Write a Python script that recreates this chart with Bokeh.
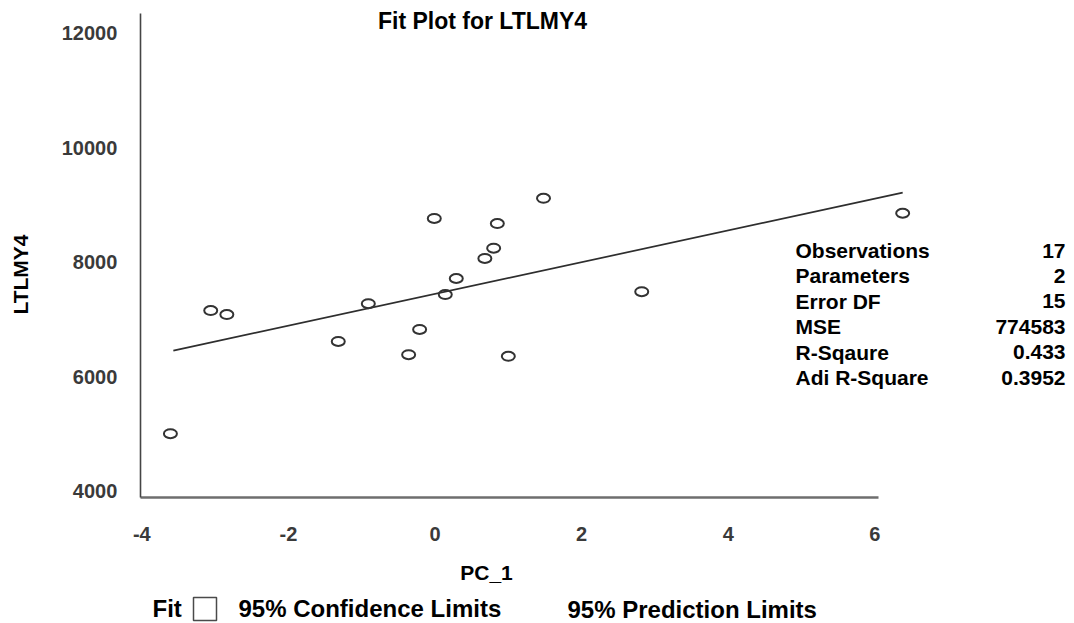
import math
from bokeh.plotting import figure
from bokeh.models import Label, Range1d, FixedTicker, LinearAxis, BoxAnnotation
from bokeh.embed import file_html
from bokeh.resources import INLINE

# ---- data ----
pc1 = [-3.61, -3.06, -2.84, -1.32, -0.91, -0.36, -0.21, -0.01, 0.14, 0.29,
       0.68, 0.80, 0.85, 1.00, 1.48, 2.82, 6.38]
ltlmy4 = [5010, 7160, 7090, 6620, 7280, 6390, 6830, 8770, 7440, 7720,
          8070, 8250, 8680, 6360, 9120, 7490, 8860]
fit_x = [-3.57, 6.38]
fit_y = [6460, 9220]

x_ticks = [-4, -2, 0, 2, 4, 6]
x_tick_labels = ["-4", "-2", "0", "2", "4", "6"]
y_ticks = [4000, 6000, 8000, 10000, 12000]
y_tick_labels = ["4000", "6000", "8000", "10000", "12000"]

stat_names = ["Observations", "Parameters", "Error DF", "MSE", "R-Sqaure", "Adi R-Square"]
stat_values = ["17", "2", "15", "774583", "0.433", "0.3952"]

title_text = "Fit Plot for LTLMY4"
x_label = "PC_1"
y_label = "LTLMY4"
legend_items = ["Fit", "95% Confidence Limits", "95% Prediction Limits"]

FONT = "Liberation Sans"
W, H = 1074, 623
X_MIN, X_AXIS_END = -4.02, 6.05
Y_MIN, Y_MAX = 3895, 12349

# the plot frame fills the whole canvas; axes are drawn at fixed locations
p = figure(width=W, height=H, output_backend="svg", toolbar_location=None,
           x_range=Range1d(-5.928, 8.724), y_range=Range1d(1694, 12576),
           min_border_left=0, min_border_right=0, min_border_top=0,
           min_border_bottom=0, x_axis_location=None, y_axis_location=None)
p.grid.grid_line_color = None
p.outline_line_color = None
p.background_fill_color = "white"
p.border_fill_color = "white"

xaxis = LinearAxis(ticker=FixedTicker(ticks=x_ticks), bounds=(X_MIN, X_AXIS_END),
                   fixed_location=Y_MIN,
                   major_label_overrides={t: s for t, s in zip(x_ticks, x_tick_labels)})
yaxis = LinearAxis(ticker=FixedTicker(ticks=y_ticks), bounds=(Y_MIN, Y_MAX),
                   fixed_location=X_MIN,
                   major_label_overrides={t: s for t, s in zip(y_ticks, y_tick_labels)})
for ax in (xaxis, yaxis):
    ax.major_tick_line_color = None
    ax.minor_tick_line_color = None
    ax.major_tick_out = 0
    ax.major_tick_in = 0
    ax.major_label_text_font = FONT
    ax.major_label_text_font_size = "20px"
    ax.major_label_text_font_style = "bold"
    ax.major_label_text_color = "#3a3a3a"
xaxis.axis_line_color = "#6e6e6e"
xaxis.axis_line_width = 2.5
xaxis.major_label_standoff = 30
yaxis.axis_line_color = "#454545"
yaxis.axis_line_width = 1.6
yaxis.major_label_standoff = 23
p.add_layout(xaxis, "below")
p.add_layout(yaxis, "left")

# fit line and observations
p.line(fit_x, fit_y, line_color="#2e2e2e", line_width=1.7)
p.ellipse(x=pc1, y=ltlmy4, width=13, height=9, width_units="screen",
          height_units="screen", fill_color=None, line_color="#333333", line_width=2)

def lab(text, sx, sy, size="21px", align="left", angle=0.0):
    p.add_layout(Label(x=sx, y=sy, x_units="screen", y_units="screen", text=text,
                       text_font=FONT, text_font_size=size, text_font_style="bold",
                       text_color="black", text_align=align, text_baseline="middle",
                       angle=angle))

# title and axis labels (screen units, origin at bottom-left of canvas)
lab(title_text, 482, 603, size="23px", align="center")
lab(x_label, 486, 51, size="21px", align="center")
lab(y_label, 20, 349, size="21px", align="center", angle=math.pi / 2)

# statistics table
for i, (n, v) in enumerate(zip(stat_names, stat_values)):
    sy = 373 - i * 25.4
    lab(n, 795, sy)
    lab(v, 1065, sy, align="right")

# legend
lab(legend_items[0], 152, 15, size="24px")
p.add_layout(BoxAnnotation(left=193, right=216, bottom=3, top=26,
                           left_units="screen", right_units="screen",
                           top_units="screen", bottom_units="screen",
                           fill_color=None, fill_alpha=0, line_color="#4a4a4a",
                           line_alpha=1.0, line_width=1.5))
lab(legend_items[1], 238, 15, size="24px")
lab(legend_items[2], 567, 14, size="24px")

open("out.html", "w").write(file_html(p, INLINE))
